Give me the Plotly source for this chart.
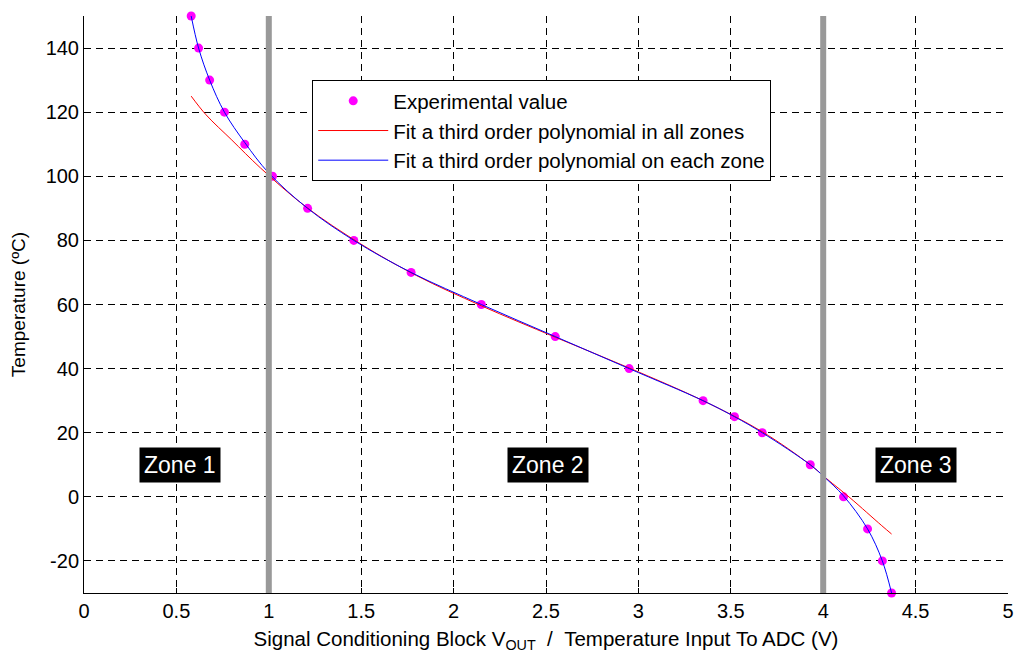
import plotly.graph_objects as go

# Experimental calibration points: ADC input voltage (V) vs temperature (°C)
vout_exp = [0.58, 0.62, 0.68, 0.76, 0.87, 1.02, 1.21, 1.46, 1.77, 2.15,
            2.55, 2.95, 3.35, 3.52, 3.67, 3.93, 4.11, 4.24, 4.32, 4.37]
temp_exp = [150, 140, 130, 120, 110, 100, 90, 80, 70, 60,
            50, 40, 30, 25, 20, 10, 0, -10, -20, -30]

# Single cubic fit over the whole range
vout_fit_all = [0.58, 0.66, 0.80, 0.955, 1.2, 1.5, 1.8, 2.15, 2.55, 2.95,
                3.35, 3.67, 3.93, 4.02, 4.145, 4.317, 4.37]
temp_fit_all = [125, 119.2, 111.3, 102.6, 90.5, 78.8, 69, 59.6, 49.8, 40.2,
                30, 20.3, 10, 5.6, -0.3, -9, -11.6]

# Piecewise cubic fit (one per zone)
vout_fit_zone = [0.58, 0.62, 0.68, 0.76, 0.87, 1.0, 1.21, 1.46, 1.77, 2.15,
                 2.55, 2.95, 3.35, 3.52, 3.67, 3.93, 4.0, 4.11, 4.24, 4.32, 4.37]
temp_fit_zone = [150, 140, 130, 120, 110.5, 101, 90, 80, 70, 60,
                 50, 40, 30, 25, 20, 10, 6.5, 0.3, -10, -20, -30]

zone_bounds = [1, 4]
zone_names = ["Zone 1", "Zone 2", "Zone 3"]
zone_label_x = [0.52, 2.51, 4.5]
zone_label_y = 10

x_ticks = [0, 0.5, 1, 1.5, 2, 2.5, 3, 3.5, 4, 4.5, 5]
y_ticks = [-20, 0, 20, 40, 60, 80, 100, 120, 140]

FONT = "Liberation Sans, Arial, sans-serif"

fig = go.Figure()

fig.add_trace(go.Scatter(
    x=vout_exp, y=temp_exp, mode="markers", name="Experimental value",
    marker=dict(color="#ff00ff", size=9), cliponaxis=False,
))
fig.add_trace(go.Scatter(
    x=vout_fit_all, y=temp_fit_all, mode="lines",
    name="Fit a third order polynomial in all zones",
    line=dict(color="#ff0000", width=1, shape="spline"),
))
fig.add_trace(go.Scatter(
    x=vout_fit_zone, y=temp_fit_zone, mode="lines",
    name="Fit a third order polynomial on each zone",
    line=dict(color="#0000ff", width=1, shape="spline"),
))

# Zone boundaries
for xb in zone_bounds:
    fig.add_shape(type="line", xref="x", yref="paper", x0=xb, x1=xb, y0=0, y1=1,
                  line=dict(color="#999999", width=6), layer="above")

for name, xl in zip(zone_names, zone_label_x):
    fig.add_annotation(x=xl, y=zone_label_y, xref="x", yref="y", text=name,
                       showarrow=False, bgcolor="black", borderpad=4,
                       font=dict(family=FONT, size=23, color="white"))

fig.update_layout(
    width=1016, height=654,
    margin=dict(l=84, r=8, t=16, b=61),
    plot_bgcolor="white", paper_bgcolor="white",
    font=dict(family=FONT, size=20, color="black"),
    showlegend=True,
    legend=dict(x=0.247, y=0.889, xanchor="left", yanchor="top",
                bgcolor="white", bordercolor="black", borderwidth=1,
                itemwidth=70,
                font=dict(family=FONT, size=20.5, color="black")),
)

grid_style = dict(showgrid=True, gridcolor="black", gridwidth=1, griddash="7px,5px",
                  zeroline=False, showline=True, linecolor="black", linewidth=1,
                  ticks="inside", ticklen=5, tickcolor="black", automargin=False,
                  tickfont=dict(family=FONT, size=20, color="black"))

fig.update_xaxes(range=[0, 5], tickvals=x_ticks, ticktext=[f"{v:g}" for v in x_ticks],
                 title=dict(text="Signal Conditioning Block V<sub>OUT</sub>\u00a0\u00a0/\u00a0\u00a0Temperature Input To ADC (V)",
                            font=dict(family=FONT, size=20.5), standoff=10),
                 **grid_style)
fig.update_yaxes(range=[-30, 150], tickvals=y_ticks, ticktext=[str(v) for v in y_ticks],
                 title=dict(text="Temperature (ºC)", font=dict(family=FONT, size=19), standoff=14),
                 **grid_style)

fig.write_html("out.html")
